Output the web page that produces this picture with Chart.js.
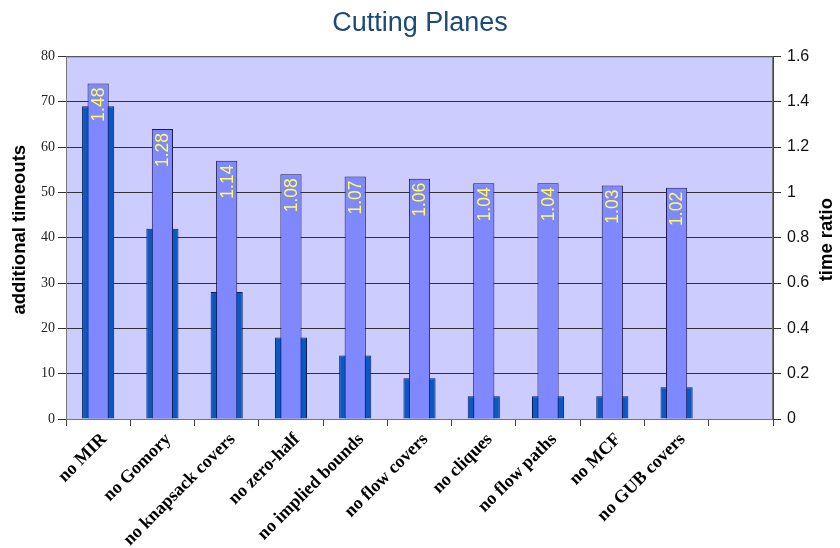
<!DOCTYPE html>
<html>
<head>
<meta charset="utf-8">
<title>Cutting Planes</title>
<script src="https://cdn.jsdelivr.net/npm/chart.js@4/dist/chart.umd.min.js"></script>
<style>
  html, body { margin: 0; padding: 0; background: #fff; }
  #wrap { width: 840px; height: 548px; }
</style>
</head>
<body>
<div id="wrap"><canvas id="cutChart" width="840" height="548"></canvas></div>
<script>
// categories (last slot is left empty on purpose)
const categories = ['no MIR', 'no Gomory', 'no knapsack covers', 'no zero-half', 'no implied bounds',
  'no flow covers', 'no cliques', 'no flow paths', 'no MCF', 'no GUB covers', ''];
const timeouts = [69, 42, 28, 18, 14, 9, 5, 5, 5, 7, null];
const timeRatio = [1.48, 1.28, 1.14, 1.08, 1.07, 1.06, 1.04, 1.04, 1.03, 1.02, null];

const leftTicks = [0, 10, 20, 30, 40, 50, 60, 70, 80];
const rightTicks = [0, 0.2, 0.4, 0.6, 0.8, 1, 1.2, 1.4, 1.6];

// lavender plot background + frame
const plotBg = {
  id: 'plotBg',
  beforeDraw(chart) {
    const { ctx, chartArea: a } = chart;
    ctx.save();
    ctx.fillStyle = '#ccccff';
    ctx.fillRect(a.left, a.top, a.right - a.left, a.bottom - a.top);
    ctx.restore();
  },
  afterDatasetsDraw(chart) {
    const { ctx, chartArea: a } = chart;
    ctx.save();
    ctx.strokeStyle = '#777';
    ctx.lineWidth = 1;
    ctx.strokeRect(a.left + 0.5, a.top + 0.5, a.right - a.left - 1, a.bottom - a.top);
    ctx.restore();
  }
};

// yellow ratio values written up the light bars
const ratioLabels = {
  id: 'ratioLabels',
  afterDatasetsDraw(chart) {
    const { ctx } = chart;
    const meta = chart.getDatasetMeta(0);
    ctx.save();
    ctx.fillStyle = '#ffff55';
    ctx.font = '17.5px "Liberation Sans", Arial, sans-serif';
    ctx.textAlign = 'right';
    ctx.textBaseline = 'middle';
    meta.data.forEach((bar, i) => {
      const v = timeRatio[i];
      if (v == null) return;
      ctx.save();
      ctx.translate(bar.x, bar.y + 4);
      ctx.rotate(-Math.PI / 2);
      ctx.fillText(v.toFixed(2), 0, 1);
      ctx.restore();
    });
    ctx.restore();
  }
};

// both axis titles read bottom to top
const axisTitles = {
  id: 'axisTitles',
  afterDraw(chart) {
    const { ctx, chartArea: a } = chart;
    const midY = (a.top + a.bottom) / 2;
    ctx.save();
    ctx.fillStyle = '#000';
    ctx.font = 'bold 18.5px "Liberation Sans", Arial, sans-serif';
    ctx.textAlign = 'center';
    ctx.textBaseline = 'middle';
    [[20, 'additional timeouts', -8], [827, 'time ratio', 2]].forEach(([x, txt, dy]) => {
      ctx.save();
      ctx.translate(x, midY + dy);
      ctx.rotate(-Math.PI / 2);
      ctx.fillText(txt, 0, 0);
      ctx.restore();
    });
    ctx.restore();
  }
};

const ctx = document.getElementById('cutChart').getContext('2d');
new Chart(ctx, {
  type: 'bar',
  data: {
    labels: categories,
    datasets: [
      {
        label: 'time ratio',
        data: timeRatio,
        yAxisID: 'y1',
        backgroundColor: '#7f88ff',
        borderColor: '#1c1c50',
        borderWidth: 1,
        barPercentage: 0.33,
        categoryPercentage: 1,
        grouped: false,
        order: 0
      },
      {
        label: 'additional timeouts',
        data: timeouts,
        yAxisID: 'y',
        backgroundColor: '#0a58c4',
        borderColor: '#0a1f55',
        borderWidth: 1,
        barPercentage: 0.5,
        categoryPercentage: 1,
        grouped: false,
        order: 1
      }
    ]
  },
  options: {
    responsive: false,
    animation: false,
    layout: { padding: 0 },
    plugins: {
      legend: { display: false },
      tooltip: { enabled: false },
      title: {
        display: true,
        text: 'Cutting Planes',
        color: '#1a4a7a',
        font: { family: '"Liberation Sans", Arial, sans-serif', size: 27, weight: 'normal' },
        padding: { top: 7, bottom: 17 }
      }
    },
    scales: {
      x: {
        offset: true,
        grid: { display: true, offset: true, drawOnChartArea: false, tickLength: 7, color: '#444' },
        border: { display: true, color: '#444' },
        ticks: {
          minRotation: 45, maxRotation: 45, autoSkip: false, padding: 3, labelOffset: 6,
          color: '#000',
          font: { family: '"Liberation Serif", "Times New Roman", serif', size: 18, weight: 'bold' }
        },
        afterFit(scale) { scale.height = 129; }
      },
      y: {
        position: 'left',
        min: 0, max: 80,
        afterBuildTicks(scale) { scale.ticks = leftTicks.map(v => ({ value: v })); },
        grid: { color: '#333', lineWidth: 1, tickLength: 8 },
        border: { display: true, color: '#444' },
        ticks: {
          padding: 3, color: '#222',
          font: { family: '"Liberation Serif", "Times New Roman", serif', size: 14 }
        },
        afterFit(scale) { scale.width = 66; }
      },
      y1: {
        position: 'right',
        min: 0, max: 1.6,
        afterBuildTicks(scale) { scale.ticks = rightTicks.map(v => ({ value: v })); },
        grid: { drawOnChartArea: false, color: '#333', tickLength: 8 },
        border: { display: true, color: '#444' },
        ticks: {
          padding: 6, color: '#111',
          font: { family: '"Liberation Sans", Arial, sans-serif', size: 16 },
          callback: v => String(+v.toFixed(1))
        },
        afterFit(scale) { scale.width = 67; }
      }
    }
  },
  plugins: [plotBg, ratioLabels, axisTitles]
});
</script>
</body>
</html>
